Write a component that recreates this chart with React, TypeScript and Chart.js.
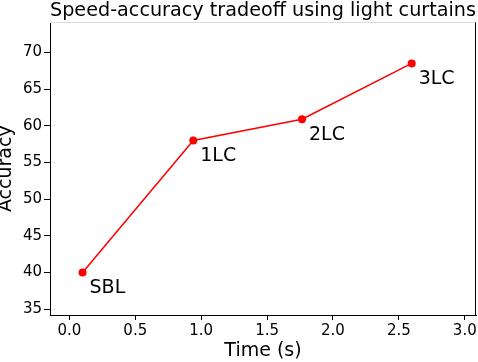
import React, { useEffect, useRef } from "react";
import { Chart, registerables } from "chart.js";

Chart.register(...registerables);

const methods = ["SBL", "1LC", "2LC", "3LC"];
const timeSec = [0.1, 0.94, 1.765, 2.597];
const accuracy = [40.0, 58.0, 60.9, 68.5];
const xTicks = [0, 0.5, 1.0, 1.5, 2.0, 2.5, 3.0];
const yTicks = [35, 40, 45, 50, 55, 60, 65, 70];
const chartTitle = "Speed-accuracy tradeoff using light curtains";
const xTitle = "Time (s)";
const yTitle = "Accuracy";

const FONT = "'DejaVu Sans', sans-serif";

export default function App() {
  const ref = useRef<HTMLCanvasElement>(null);

  useEffect(() => {
    if (!ref.current) return;

    const labelPlugin = {
      id: "pointLabels",
      afterDatasetsDraw(chart: any) {
        const meta = chart.getDatasetMeta(0);
        const ctx = chart.ctx;
        ctx.save();
        ctx.font = `19px ${FONT}`;
        ctx.fillStyle = "#000";
        ctx.textAlign = "left";
        ctx.textBaseline = "alphabetic";
        meta.data.forEach((pt: any, i: number) => {
          ctx.fillText(methods[i], pt.x + 7, pt.y + 21);
        });
        ctx.restore();
      },
    };

    const framePlugin = {
      id: "frame",
      afterDraw(chart: any) {
        const { left, right, top, bottom } = chart.chartArea;
        const ctx = chart.ctx;
        ctx.save();
        ctx.lineWidth = 1;
        ctx.strokeStyle = "#dcdcdc";
        ctx.beginPath();
        ctx.moveTo(left, Math.round(top) + 0.5);
        ctx.lineTo(right, Math.round(top) + 0.5);
        ctx.stroke();
        ctx.strokeStyle = "#000";
        ctx.beginPath();
        ctx.moveTo(Math.round(right) - 0.5, top);
        ctx.lineTo(Math.round(right) - 0.5, bottom);
        ctx.stroke();
        ctx.restore();
      },
    };

    const chart = new Chart(ref.current, {
      type: "scatter",
      data: {
        datasets: [
          {
            data: timeSec.map((t, i) => ({ x: t, y: accuracy[i] })),
            showLine: true,
            borderColor: "#ff0000",
            backgroundColor: "#ff0000",
            borderWidth: 1.5,
            pointRadius: 4,
            pointHoverRadius: 4,
            pointBorderWidth: 0,
          },
        ],
      },
      options: {
        animation: false,
        responsive: true,
        maintainAspectRatio: false,
        layout: { autoPadding: false, padding: { left: 0, right: 2, top: 0, bottom: 0 } },
        plugins: {
          legend: { display: false },
          tooltip: { enabled: false },
          title: {
            display: true,
            text: chartTitle,
            fullSize: false,
            color: "#000",
            font: { family: FONT, size: 19.3, weight: "normal", lineHeight: 0.9 },
            padding: { top: 2, bottom: 3 },
          },
        },
        scales: {
          x: {
            type: "linear",
            min: -0.147,
            max: 3.085,
            afterBuildTicks: (scale: any) => {
              scale.ticks = xTicks.map((v) => ({ value: v }));
            },
            afterFit: (scale: any) => {
              scale.height = 47;
              scale.paddingLeft = 0;
              scale.paddingRight = 0;
            },
            ticks: {
              color: "#000",
              font: { family: FONT, size: 15 },
              padding: 2,
              maxRotation: 0,
              autoSkip: false,
              callback: (v: any) => Number(v).toFixed(1),
            },
            grid: {
              drawOnChartArea: false,
              drawTicks: true,
              tickLength: 5,
              color: "#000",
            },
            border: { display: true, color: "#000", width: 1 },
            title: {
              display: true,
              text: xTitle,
              color: "#000",
              font: { family: FONT, size: 19, lineHeight: 1.2 },
              padding: 0,
            },
          },
          y: {
            type: "linear",
            min: 34.2,
            max: 74.1,
            afterBuildTicks: (scale: any) => {
              scale.ticks = yTicks.map((v) => ({ value: v }));
            },
            afterFit: (scale: any) => {
              scale.width = 50;
              scale.paddingTop = 0;
              scale.paddingBottom = 0;
            },
            ticks: {
              color: "#000",
              font: { family: FONT, size: 15 },
              padding: 2,
              autoSkip: false,
              callback: (v: any) => String(v),
            },
            grid: {
              drawOnChartArea: false,
              drawTicks: true,
              tickLength: 6,
              color: "#000",
            },
            border: { display: true, color: "#000", width: 1 },
            title: {
              display: true,
              text: yTitle,
              color: "#000",
              font: { family: FONT, size: 19, lineHeight: 0.6 },
              padding: 0,
            },
          },
        },
      },
      plugins: [labelPlugin, framePlugin],
    });

    return () => chart.destroy();
  }, []);

  return (
    <div style={{ position: "absolute", left: 0, top: 0, width: 478, height: 362, background: "#fff" }}>
      <canvas ref={ref} />
    </div>
  );
}
